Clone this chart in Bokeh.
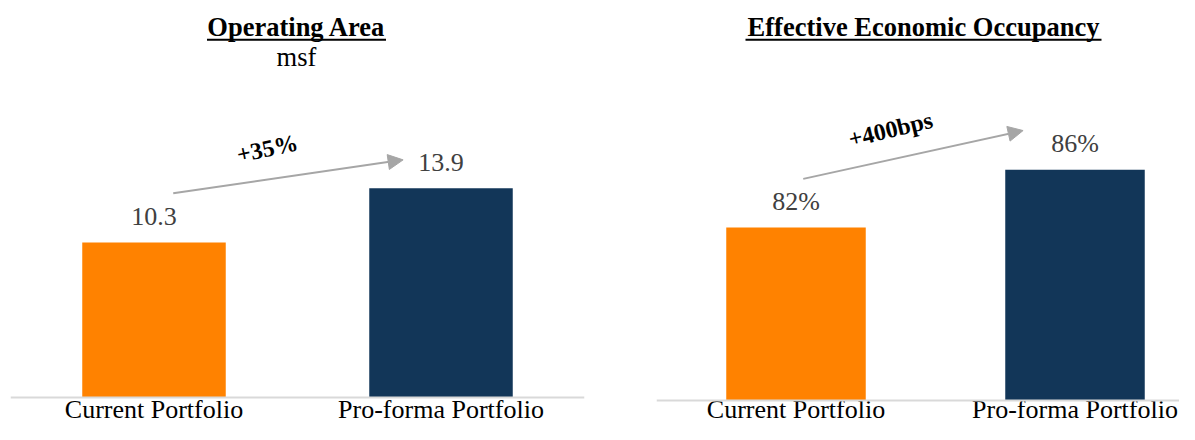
import math
from bokeh.plotting import figure
from bokeh.layouts import row
from bokeh.models import ColumnDataSource, Range1d, Span, Arrow, NormalHead
from bokeh.core.properties import value
from bokeh.embed import file_html
from bokeh.resources import INLINE

# ---- data ----
categories = ["Current Portfolio", "Pro-forma Portfolio"]
area_values = [10.3, 13.9]
area_labels = ["10.3", "13.9"]
occ_values = [82, 86]
occ_labels = ["82%", "86%"]
bar_colors = ["#FF8200", "#123658"]

left_title = "Operating Area"
left_subtitle = "msf"
left_change = "+35%"
right_title = "Effective Economic Occupancy"
right_change = "+400bps"

FONT = value("Liberation Serif")
GRAY = "#A6A6A6"
LABEL_GRAY = "#404040"
H = 424


def make_panel(width, border_left, border_right, x_end, y_start, y_end, base, values, labels,
               title, title_x, title_halfw_px, px_per_x, px_per_y, subtitle,
               change, change_xy, change_angle, arrow_xy, cat_offset):
    p = figure(width=width, height=H, output_backend="svg", toolbar_location=None,
               x_range=Range1d(-0.5, x_end), y_range=Range1d(y_start, y_end),
               x_axis_location=None, y_axis_location=None,
               min_border_left=border_left, min_border_right=border_right,
               min_border_top=0, min_border_bottom=0)
    p.grid.visible = False
    p.outline_line_color = None
    p.background_fill_color = None
    p.border_fill_color = None

    xs = list(range(len(categories)))
    src = ColumnDataSource(dict(x=xs, top=values, color=bar_colors, lab=labels,
                                cat=categories, base=[base] * len(xs)))
    p.vbar(x="x", top="top", bottom=base, width=0.5, color="color", line_color=None, source=src)

    p.add_layout(Span(location=base, dimension="width", line_color="#D9D9D9", line_width=2))

    # value labels
    p.text(x="x", y="top", text="lab", source=src, text_font=FONT,
           text_font_size=value("26px"), text_color=LABEL_GRAY,
           text_align="center", text_baseline="middle", y_offset=-26)
    # category labels
    p.text(x="x", y="base", text="cat", source=src, text_font=FONT,
           text_font_size=value("26px"), text_color="#000000",
           text_align="center", text_baseline="middle", y_offset=cat_offset)

    # title (top of frame = canvas y 0)
    p.text(x=[title_x], y=[y_end], text=[title], text_font=FONT,
           text_font_size=value("26.5px"), text_font_style="bold", text_color="#000000",
           text_align="center", text_baseline="middle", y_offset=26)
    # underline of title
    uy = y_end - 39.3 / px_per_y
    hw = title_halfw_px / px_per_x
    p.segment(x0=[title_x - hw], y0=[uy], x1=[title_x + hw], y1=[uy],
              line_color="#000000", line_width=2)
    if subtitle:
        p.text(x=[title_x], y=[y_end], text=[subtitle], text_font=FONT,
               text_font_size=value("26.5px"), text_color="#000000",
               text_align="center", text_baseline="middle", y_offset=56)

    # growth arrow + label
    (x0, y0, x1, y1) = arrow_xy
    p.add_layout(Arrow(x_start=x0, y_start=y0, x_end=x1, y_end=y1,
                       line_color=GRAY, line_width=2,
                       end=NormalHead(size=15, fill_color=GRAY, line_color=GRAY, line_width=1)))
    p.text(x=[change_xy[0]], y=[change_xy[1]], text=[change], text_font=FONT,
           text_font_size=value("24px"), text_font_style="bold", text_color="#000000",
           text_align="center", text_baseline="middle", angle=math.radians(change_angle))
    return p


# left panel: frame x 10..584 (287 px per category), baseline y 397, 15.05 px/unit
left = make_panel(width=648, border_left=10, border_right=64, x_end=1.5,
                  y_start=-(H - 397) / 15.05, y_end=397 / 15.05, base=0,
                  values=area_values, labels=area_labels,
                  title=left_title, title_x=0.4965, title_halfw_px=89.5,
                  px_per_x=287, px_per_y=15.05, subtitle=left_subtitle,
                  change=left_change, change_xy=(0.395, 16.54), change_angle=12,
                  arrow_xy=(0.067, 13.57, 0.868, 15.79), cat_offset=12)

# right panel: frame x 656..1179 (279 px per category), baseline y 400 at 70, 14.42 px/unit
right = make_panel(width=531, border_left=8, border_right=0, x_end=-0.5 + 523 / 279,
                   y_start=70 - (H - 400) / 14.42, y_end=70 + 400 / 14.42, base=70,
                   values=occ_values, labels=occ_labels,
                   title=right_title, title_x=0.457, title_halfw_px=178,
                   px_per_x=279, px_per_y=14.42, subtitle=None,
                   change=right_change, change_xy=(0.339, 88.79), change_angle=13.5,
                   arrow_xy=(0.026, 85.37, 0.814, 88.72), cat_offset=9)

layout = row(left, right, spacing=0)
open("out.html", "w").write(file_html(layout, INLINE))
